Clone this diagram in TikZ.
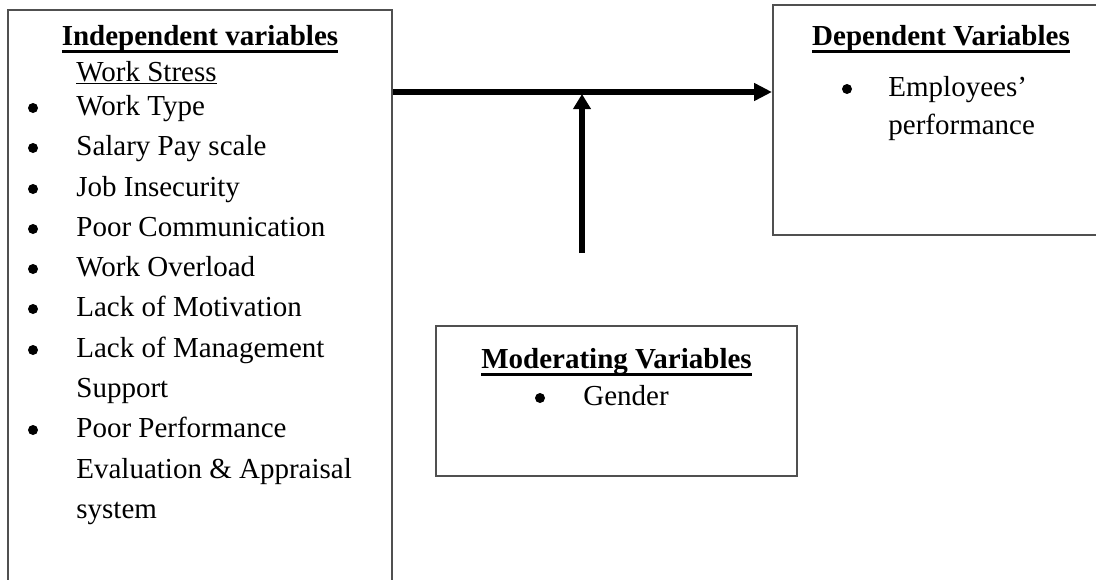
\documentclass[tikz,border=0pt]{standalone}
\usepackage{fontspec}
\setmainfont{Liberation Serif}
\usetikzlibrary{arrows.meta}

\definecolor{boxgray}{HTML}{505050}

\newsavebox{\ulbox}
\newcommand{\headline}[1]{\sbox{\ulbox}{\bfseries #1}\rlap{\rule[-3.8pt]{\wd\ulbox}{1.5pt}}\usebox{\ulbox}}
\newcommand{\thinline}[1]{\sbox{\ulbox}{#1}\rlap{\rule[-1.6pt]{\wd\ulbox}{0.6pt}}\usebox{\ulbox}}

\begin{document}
\begin{tikzpicture}[x=0.5pt,y=-0.5pt,
    every node/.style={font=\fontsize{14.5}{17}\selectfont,inner sep=0pt},
    box/.style={draw=boxgray,line width=1pt,rectangle},
    head/.style={anchor=base},
    dot/.style={circle,fill=black,minimum size=5pt},
    entry/.style={anchor=base west},
    flow/.style={line width=2.6pt,-{Triangle[length=9pt,width=8.5pt]}}
]

\useasboundingbox (0,0) rectangle (1096,579);
\clip (0,0) rectangle (1096,579);

% independent variables
\node[box,minimum width=192pt,minimum height=300pt] (ivbox) at (200,310) {};
\node[head] (ivhead) at (200,45) {\headline{Independent variables}};
\node[entry] (ivsub) at (76,81) {\thinline{Work Stress}};

\foreach \yy [count=\i] in {115,155,196,236,276,316,357,437}
  \node[dot] (ivb\i) at (33,\yy-7) {};

\foreach \txt/\yy [count=\i] in {Work Type/115, Salary Pay scale/155,
    Job Insecurity/196, Poor Communication/236, Work Overload/276,
    Lack of Motivation/316, Lack of Management/357, Support/397,
    Poor Performance/437, Evaluation \& Appraisal/478, system/518}
  \node[entry] (iv\i) at (76,\yy) {\txt};

% dependent variables
\node[box,minimum width=180pt,minimum height=115pt] (dvbox) at (953,120) {};
\node[head] (dvhead) at (941,45) {\headline{Dependent Variables}};
\node[dot] (dvb1) at (847,89) {};
\node[entry] (dv1) at (888,96) {Employees’};
\node[entry] (dv2) at (888,134) {performance};

% moderating variables
\node[box,minimum width=180.5pt,minimum height=75pt] (mvbox) at (616.5,401) {};
\node[head] (mvhead) at (616.5,368) {\headline{Moderating Variables}};
\node[dot] (mvb1) at (540,398) {};
\node[entry] (mv1) at (583,405) {Gender};

% arrows
\coordinate (join) at (582,92);
\coordinate (mvtail) at (582,253);

\draw[flow] (ivbox.east |- join) -- (dvbox.west |- join);
\draw[flow,-{Triangle[length=7.5pt,width=8.5pt]}] (mvtail) -- ([yshift=-1pt]join);

\end{tikzpicture}
\end{document}
